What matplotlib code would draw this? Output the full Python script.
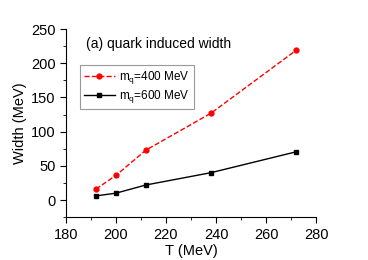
import matplotlib.pyplot as plt
from matplotlib.ticker import MultipleLocator

plt.rcParams['font.family'] = ['Liberation Sans', 'DejaVu Sans']

T = [192, 200, 212, 238, 272]
width_400 = [16, 36, 73, 127, 219]
width_600 = [6, 10, 22, 40, 70.5]

fig = plt.figure(figsize=(3.68, 2.6), dpi=100)
ax = fig.add_axes([0.179, 0.165, 0.68, 0.723])

ax.plot(T, width_400, 'r--', marker='o', ms=3.5, lw=1, label='m$_\\mathregular{q}$=400 MeV')
ax.plot(T, width_600, 'k-', marker='s', ms=3, lw=1, label='m$_\\mathregular{q}$=600 MeV')

ax.set_xlim(180, 280)
ax.set_ylim(-25, 250)
ax.xaxis.set_major_locator(MultipleLocator(20))
ax.xaxis.set_minor_locator(MultipleLocator(10))
ax.yaxis.set_major_locator(MultipleLocator(50))
ax.yaxis.set_minor_locator(MultipleLocator(25))
ax.spines['top'].set_visible(False)
ax.spines['right'].set_visible(False)
ax.tick_params(which='major', direction='out', length=4, labelsize=10.5)
ax.tick_params(which='minor', direction='out', length=2)

ax.set_xlabel('T (MeV)', fontsize=10.5, labelpad=2)
ax.set_ylabel('Width (MeV)', fontsize=10.5, labelpad=3)
ax.text(0.08, 0.96, '(a) quark induced width', transform=ax.transAxes,
        fontsize=10, va='top')

leg = ax.legend(loc='upper left', bbox_to_anchor=(0.056, 0.81), fontsize=8.5,
                fancybox=False, edgecolor='gray', handlelength=2.6,
                borderpad=0.35, labelspacing=0.2, borderaxespad=0,
                handletextpad=0.4)
leg.get_frame().set_linewidth(0.8)

fig.savefig('out.png', dpi=100)
